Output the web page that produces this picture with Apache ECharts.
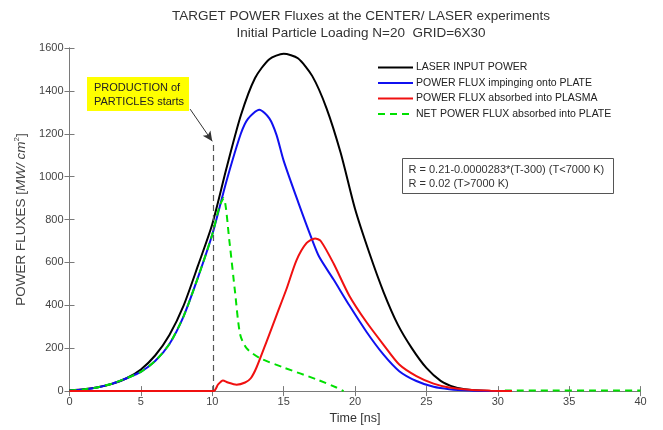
<!DOCTYPE html>
<html>
<head>
<meta charset="utf-8">
<script src="https://cdn.jsdelivr.net/npm/echarts@6/dist/echarts.min.js"></script>
<style>
  html, body { margin: 0; padding: 0; background: #fff; }
  #chart { width: 663px; height: 430px; }
</style>
</head>
<body>
<div id="chart"></div>
<script>
// Time axis ticks [ns] and power-flux ticks [MW/cm^2]
const timeTicks = [0, 5, 10, 15, 20, 25, 30, 35, 40];
const fluxTicks = [0, 200, 400, 600, 800, 1000, 1200, 1400, 1600];

// LASER INPUT POWER
const laserT = [0, 1, 2, 3, 4, 5, 6, 7, 8, 9, 10, 11, 12, 13, 14, 15, 16, 17, 18, 19, 20, 21, 22, 23, 24, 25, 26, 27, 28, 29, 30];
const laserP = [4, 9, 18, 34, 60, 101, 166, 262, 400, 585, 778, 1040, 1285, 1460, 1548, 1573, 1552, 1470, 1320, 1110, 850, 645, 462, 310, 198, 108, 48, 18, 6, 1.5, 0];

// POWER FLUX impinging onto PLATE
const plateT = [0, 1, 2, 3, 4, 5, 6, 7, 8, 9, 10, 11, 12, 12.5, 13.3, 14, 14.5, 15, 16, 17, 17.5, 18.5, 19.6, 20.8, 22, 23.1, 24.3, 25.5, 26.6, 28, 30];
const plateP = [3, 8, 18, 35, 60, 90, 140, 220, 350, 530, 730, 980, 1200, 1270, 1312, 1272, 1195, 1075, 885, 705, 625, 520, 400, 277, 170, 93, 47, 20, 9, 3, 0];

// POWER FLUX absorbed into PLASMA
const plasmaT = [0, 10.1, 10.4, 10.75, 11.1, 11.7, 12.3, 12.7, 13.1, 13.8, 14.5, 15.2, 15.9, 16.6, 17.2, 17.6, 18.5, 19.6, 20.8, 22, 23.1, 24.3, 25.5, 26.6, 28, 29.5, 31];
const plasmaP = [0, 0, 30, 50, 40, 30, 40, 60, 110, 230, 353, 476, 610, 690, 712, 700, 595, 445, 322, 216, 124, 70, 35, 17, 6, 2, 0];

// NET POWER FLUX absorbed into PLATE (no output between 19.2 and 30.5 ns)
const netT = [0, 1, 2, 3, 4, 5, 6, 7, 8, 9, 10, 10.5, 10.8, 11.2, 11.6, 11.95, 12.4, 13.3, 15, 17.3, 18.7, 19.2, 25, 30.5, 40];
const netP = [3, 8, 18, 35, 60, 90, 140, 220, 350, 530, 730, 860, 900, 700, 460, 265, 200, 155, 110, 55, 17, 0, null, 3, 3];

// Onset of particle production and the arrow pointing to it
const productionT = 10.1;
const productionTop = 1150;
const arrowFrom = [8.45, 1315];
const arrowTo = [10.0, 1165];

const names = [
  'LASER INPUT POWER',
  'POWER FLUX impinging onto PLATE',
  'POWER FLUX absorbed into PLASMA',
  'NET POWER FLUX absorbed into PLATE'
];

const pairs = (t, v) => t.map((x, i) => [x, v[i] === null ? '-' : v[i]]);
const FONT = '"Liberation Sans", Arial, sans-serif';
const axisGray = '#7a7a7a';

const chart = echarts.init(document.getElementById('chart'), null, { renderer: 'canvas' });

const baseX = {
  type: 'value', min: timeTicks[0], max: timeTicks[timeTicks.length - 1],
  interval: timeTicks[1] - timeTicks[0],
  axisLine: { show: true, lineStyle: { color: axisGray, width: 1 } },
  axisTick: { show: true, inside: true, length: 5, lineStyle: { color: axisGray } },
  splitLine: { show: false }
};
const baseY = {
  type: 'value', min: fluxTicks[0], max: fluxTicks[fluxTicks.length - 1],
  interval: fluxTicks[1] - fluxTicks[0],
  axisLine: { show: true, lineStyle: { color: axisGray, width: 1 } },
  axisTick: { show: true, inside: true, length: 5, lineStyle: { color: axisGray } },
  splitLine: { show: false }
};

const lineSeries = (name, t, v, color, z, extra) => Object.assign({
  name: name, type: 'line', data: pairs(t, v),
  symbol: 'none', showSymbol: false, smooth: 0.25, connectNulls: false,
  color: color, lineStyle: { color: color, width: 2 }, z: z
}, extra || {});

chart.setOption({
  animation: false,
  backgroundColor: '#fff',
  textStyle: { fontFamily: FONT },
  title: {
    text: 'TARGET POWER Fluxes at the CENTER/ LASER experiments\nInitial Particle Loading N=20  GRID=6X30',
    left: 356, top: 3, textAlign: 'center',
    textStyle: { fontSize: 13.5, fontWeight: 'normal', color: '#333', lineHeight: 17, fontFamily: FONT }
  },
  grid: { left: 69.5, right: 22.5, top: 48, bottom: 33 },
  legend: {
    data: names,
    orient: 'vertical',
    left: 372, top: 57,
    itemWidth: 35, itemHeight: 10, itemGap: 4.5,
    itemStyle: { opacity: 0 },
    textStyle: { fontSize: 10.5, color: '#222', fontFamily: FONT, padding: [0, 0, 0, -2] },
    inactiveColor: '#ccc'
  },
  xAxis: [
    Object.assign({}, baseX, {
      position: 'bottom',
      name: 'Time [ns]', nameLocation: 'middle', nameGap: 17,
      nameTextStyle: { fontSize: 12.5, color: '#333', fontFamily: FONT },
      axisLabel: { show: true, fontSize: 11, color: '#444', margin: 5, fontFamily: FONT }
    }),
    Object.assign({}, baseX, { position: 'top', axisLabel: { show: false } })
  ],
  yAxis: [
    Object.assign({}, baseY, {
      position: 'left',
      name: '{n|POWER FLUXES [}{i|MW/ cm}{s|2}{n|]}',
      nameLocation: 'middle', nameGap: 31,
      nameTextStyle: {
        color: '#444', fontFamily: FONT,
        rich: {
          n: { fontSize: 13.5, color: '#444', fontFamily: FONT },
          i: { fontSize: 13.5, color: '#444', fontStyle: 'italic', fontFamily: FONT },
          s: { fontSize: 8, color: '#444', verticalAlign: 'top', padding: [0, 0, 8, 0], fontFamily: FONT }
        }
      },
      axisLabel: { show: true, fontSize: 11, color: '#444', margin: 6, fontFamily: FONT, formatter: v => String(v) }
    }),
    Object.assign({}, baseY, { position: 'right', axisLabel: { show: false } })
  ],
  series: [
    lineSeries(names[0], laserT, laserP, '#000', 3, {
      markLine: {
        silent: true, symbol: ['none', 'none'], label: { show: false },
        lineStyle: { color: '#555', width: 1.2, type: [6, 4] },
        data: [
          [{ coord: [productionT, 0] }, { coord: [productionT, productionTop] }]
        ]
      }
    }),
    lineSeries(names[1], plateT, plateP, '#1010f0', 4),
    lineSeries(names[3], netT, netP, '#00e000', 5, {
      lineStyle: { color: '#00e000', width: 2, type: [7, 5] },
      markLine: {
        silent: true, symbol: ['none', 'arrow'], symbolSize: [7, 10], label: { show: false },
        lineStyle: { color: '#333', width: 1, type: 'solid' },
        data: [
          [{ coord: arrowFrom }, { coord: arrowTo }]
        ]
      }
    }),
    lineSeries(names[2], plasmaT, plasmaP, '#f01010', 6)
  ],
  graphic: [
    {
      type: 'group', left: 87, top: 77,
      children: [
        { type: 'rect', shape: { x: 0, y: 0, width: 102, height: 34 }, style: { fill: '#ffff00' } },
        {
          type: 'text', x: 7, y: 4,
          style: { text: 'PRODUCTION of\nPARTICLES starts', font: '11px ' + FONT, fill: '#222', lineHeight: 14 }
        }
      ]
    },
    {
      type: 'group', left: 402, top: 158,
      children: [
        { type: 'rect', shape: { x: 0, y: 0, width: 211, height: 35 }, style: { fill: '#fff', stroke: '#555', lineWidth: 1 } },
        {
          type: 'text', x: 6, y: 4,
          style: { text: 'R = 0.21-0.0000283*(T-300) (T<7000 K)\nR = 0.02 (T>7000 K)', font: '11px ' + FONT, fill: '#333', lineHeight: 14 }
        }
      ]
    }
  ]
});
</script>
</body>
</html>
